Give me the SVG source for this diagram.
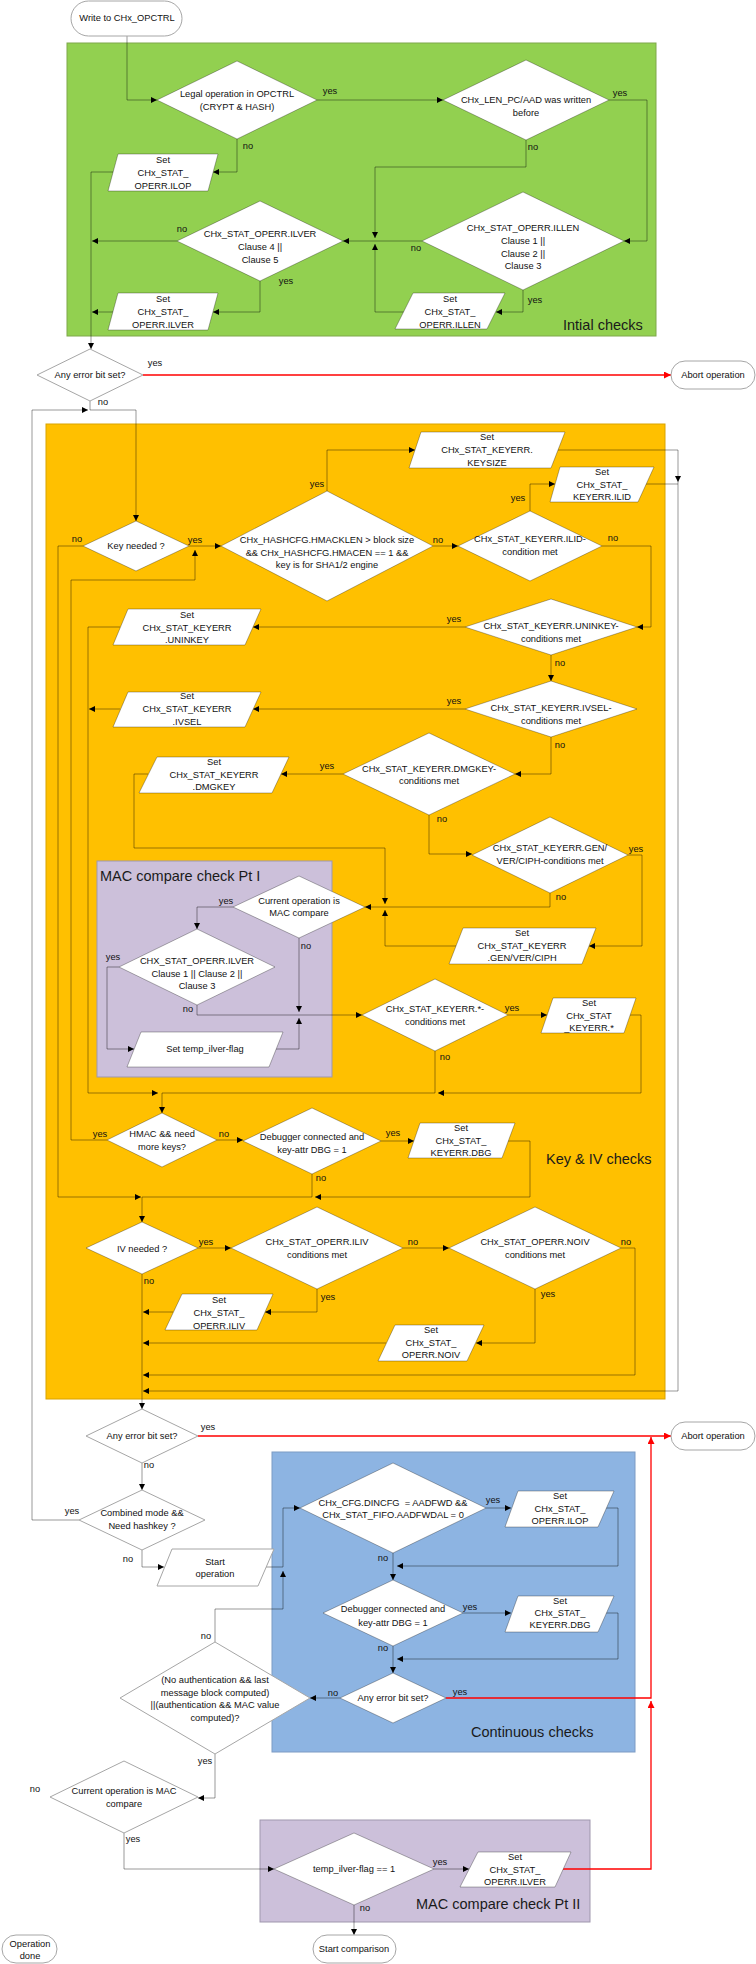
<svg xmlns="http://www.w3.org/2000/svg" width="756" height="1964" viewBox="0 0 756 1964">
<defs>
<style>
.rg-green{fill:#92D050;stroke:#7ea84a;stroke-width:1}
.rg-yellow{fill:#FFC000;stroke:#d9a300;stroke-width:1}
.rg-purple{fill:#CCC0DA;stroke:#9f97ad;stroke-width:1}
.rg-blue{fill:#8DB4E2;stroke:#7d9bc4;stroke-width:1}
.sh{fill:#fff;stroke:#000;stroke-opacity:0.3;stroke-width:1}
.so{fill:#fff;stroke:#a6a6a6;stroke-width:1}
text{font-family:"Liberation Sans",Arial,sans-serif;font-size:9.3px;fill:#111;text-anchor:middle;dominant-baseline:central}
.title{font-size:14.5px;text-anchor:start;fill:#1a1a1a}
.ln{fill:none;stroke:#000;stroke-opacity:0.4;stroke-width:1;marker-end:url(#arr)}
.lj{fill:none;stroke:#000;stroke-opacity:0.4;stroke-width:1}
.red{fill:none;stroke:#f00;stroke-width:1.3;marker-end:url(#arrR)}
</style>
<marker id="arr" viewBox="0 0 6 6" refX="6" refY="3" markerWidth="6" markerHeight="6" markerUnits="userSpaceOnUse" orient="auto"><path d="M0,0 L6,3 L0,6 z" fill="#000"/></marker>
<marker id="arrR" viewBox="0 0 7 7" refX="7" refY="3.5" markerWidth="7" markerHeight="7" markerUnits="userSpaceOnUse" orient="auto"><path d="M0,0 L7,3.5 L0,7 z" fill="#f00"/></marker>
</defs>

<!-- region boxes -->
<g id="regions">
<rect class="rg-green" x="67" y="43" width="589" height="293"/>
<text class="title" x="563" y="325">Intial checks</text>
<rect class="rg-yellow" x="46" y="424" width="619" height="975"/>
<text class="title" x="546" y="1159">Key &amp; IV checks</text>
<rect class="rg-purple" x="97" y="861" width="235" height="216"/>
<text class="title" x="100" y="876">MAC compare check Pt I</text>
<rect class="rg-blue" x="272" y="1452" width="363" height="300"/>
<text class="title" x="471" y="1732">Continuous checks</text>
<rect class="rg-purple" x="260" y="1820" width="330" height="102"/>
<text class="title" x="416" y="1904">MAC compare check Pt II</text>
</g>

<!-- connectors -->
<g id="connectors">
<path class="ln" d="M127,36 V100 H157"/>
<path class="ln" d="M317,100 H443"/>
<path class="ln" d="M609,100 H647 V241 H624"/>
<path class="ln" d="M237,139 V172 H213"/>
<path class="ln" d="M526,140 V167 H375 V238"/>
<path class="lj" d="M422,241 H375"/>
<path class="ln" d="M404,312 H375 V244"/>
<path class="ln" d="M375,241 H343"/>
<path class="ln" d="M523,290 V312 H496"/>
<path class="ln" d="M177,241 H92"/>
<path class="ln" d="M113,172 H91 V349"/>
<path class="ln" d="M260,281 V312 H213"/>
<path class="ln" d="M113,312 H92"/>
<path class="red" d="M143,375 H671"/>
<path class="ln" d="M90,401 V410 H136 V521"/>
<path class="ln" d="M189,546 H221"/>
<path class="ln" d="M107,1140 H71 V580 H195 V550"/>
<path class="ln" d="M83,546 H58 V1197 H141"/>
<path class="ln" d="M327,491 V450 H415"/>
<path class="ln" d="M433,546 H458"/>
<path class="ln" d="M558,450 H678 V482"/>
<path class="ln" d="M530,511 V484 H555"/>
<path class="lj" d="M646,484 H678"/>
<path class="ln" d="M678,482 V1391 H143"/>
<path class="ln" d="M602,546 H651 V627 H637"/>
<path class="ln" d="M465,627 H253"/>
<path class="ln" d="M120,627 H88 V1093 H158"/>
<path class="ln" d="M551,655 V681"/>
<path class="ln" d="M465,709 H253"/>
<path class="ln" d="M120,709 H89"/>
<path class="ln" d="M551,737 V774 H515"/>
<path class="ln" d="M343,774 H281"/>
<path class="ln" d="M148,774 H134 V848 H385 V904"/>
<path class="ln" d="M429,815 V854 H472"/>
<path class="ln" d="M628,855 H642 V946 H589"/>
<path class="lj" d="M550,893 V907 H385"/>
<path class="ln" d="M456,946 H385 V910"/>
<path class="ln" d="M385,907 H365"/>
<path class="ln" d="M233,907 H197 V929"/>
<path class="ln" d="M299,938 V1012"/>
<path class="lj" d="M197,1005 V1015 H299"/>
<path class="ln" d="M119,967 H107 V1049 H134"/>
<path class="ln" d="M276,1049 H299 V1018"/>
<path class="ln" d="M299,1015 H362"/>
<path class="ln" d="M508,1015 H547"/>
<path class="ln" d="M630,1015 H641 V1093 H438"/>
<path class="ln" d="M435,1051 V1093 H162 V1113"/>
<path class="ln" d="M217,1140 H243"/>
<path class="ln" d="M381,1141 H414"/>
<path class="ln" d="M508,1141 H530 V1197 H315"/>
<path class="ln" d="M312,1174 V1197 H142 V1222"/>
<path class="ln" d="M198,1248 H231"/>
<path class="ln" d="M403,1248 H449"/>
<path class="ln" d="M317,1289 V1312 H265"/>
<path class="ln" d="M173,1312 H143"/>
<path class="ln" d="M535,1289 V1343 H476"/>
<path class="ln" d="M386,1343 H143"/>
<path class="ln" d="M621,1248 H635 V1375 H143"/>
<path class="ln" d="M142,1274 V1409"/>
<path class="red" d="M198,1436 H671"/>
<path class="ln" d="M142,1463 V1490"/>
<path class="ln" d="M79,1520 H32 V410 H88"/>
<path class="ln" d="M142,1550 V1567 H164"/>
<path class="lj" d="M266,1567 H283"/>
<path class="ln" d="M215,1642 V1609 H283 V1571"/>
<path class="ln" d="M283,1567 V1508 H300"/>
<path class="ln" d="M486,1508 H511"/>
<path class="ln" d="M606,1508 H618 V1566 H397"/>
<path class="ln" d="M393,1553 V1580"/>
<path class="ln" d="M463,1613 H511"/>
<path class="ln" d="M606,1613 H618 V1659 H397"/>
<path class="ln" d="M393,1646 V1673"/>
<path class="red" d="M446,1698 H651 V1437"/>
<path class="ln" d="M340,1698 H310"/>
<path class="ln" d="M215,1754 V1798 H198"/>
<path class="ln" d="M124,1833 V1869 H274"/>
<path class="ln" d="M434,1869 H469"/>
<path class="red" d="M563,1869 H651 V1701"/>
<path class="ln" d="M354,1905 V1935"/>
</g>

<!-- branch labels -->
<g id="labels">
<text x="330" y="91">yes</text><text x="248" y="146">no</text>
<text x="620" y="93">yes</text><text x="533" y="147">no</text>
<text x="182" y="229">no</text><text x="286" y="281">yes</text>
<text x="416" y="248">no</text><text x="535" y="300">yes</text>
<text x="155" y="363">yes</text><text x="103" y="402">no</text>
<text x="77" y="539">no</text><text x="195" y="540">yes</text>
<text x="317" y="484">yes</text><text x="438" y="540">no</text>
<text x="518" y="498">yes</text><text x="613" y="538">no</text>
<text x="454" y="619">yes</text><text x="560" y="663">no</text>
<text x="454" y="701">yes</text><text x="560" y="745">no</text>
<text x="327" y="766">yes</text><text x="442" y="819">no</text>
<text x="636" y="849">yes</text><text x="561" y="897">no</text>
<text x="226" y="901">yes</text><text x="306" y="946">no</text>
<text x="113" y="957">yes</text><text x="188" y="1009">no</text>
<text x="512" y="1008">yes</text><text x="445" y="1057">no</text>
<text x="100" y="1134">yes</text><text x="224" y="1134">no</text>
<text x="393" y="1133">yes</text><text x="321" y="1178">no</text>
<text x="206" y="1242">yes</text><text x="149" y="1281">no</text>
<text x="413" y="1242">no</text><text x="328" y="1297">yes</text>
<text x="626" y="1242">no</text><text x="548" y="1294">yes</text>
<text x="208" y="1427">yes</text><text x="149" y="1465">no</text>
<text x="72" y="1511">yes</text><text x="128" y="1559">no</text>
<text x="206" y="1636">no</text>
<text x="493" y="1500">yes</text><text x="383" y="1558">no</text>
<text x="470" y="1607">yes</text><text x="383" y="1648">no</text>
<text x="460" y="1692">yes</text><text x="333" y="1693">no</text>
<text x="205" y="1761">yes</text>
<text x="35" y="1789">no</text><text x="133" y="1839">yes</text>
<text x="440" y="1862">yes</text><text x="365" y="1908">no</text>
</g>

<!-- initial checks -->
<g id="n-start"><rect class="so" x="71" y="1" width="111" height="35" rx="17.5"/><text x="127" y="18">Write to CHx_OPCTRL</text></g>
<g id="n-legal"><polygon class="sh" points="157,100 237,61 317,100 237,139"/><text><tspan x="237" y="94">Legal operation in OPCTRL</tspan><tspan x="237" y="107">(CRYPT &amp; HASH)</tspan></text></g>
<g id="n-len"><polygon class="sh" points="443,100 526,60 609,100 526,140"/><text><tspan x="526" y="100">CHx_LEN_PC/AAD was written</tspan><tspan x="526" y="113">before</tspan></text></g>
<g id="n-set-ilop"><polygon class="sh" points="118,154 218,154 208,191 108,191"/><text><tspan x="163" y="160">Set</tspan><tspan x="163" y="173">CHx_STAT_</tspan><tspan x="163" y="186">OPERR.ILOP</tspan></text></g>
<g id="n-ilver"><polygon class="sh" points="177,241 260,201 343,241 260,281"/><text><tspan x="260" y="234">CHx_STAT_OPERR.ILVER</tspan><tspan x="260" y="247">Clause 4 ||</tspan><tspan x="260" y="260">Clause 5</tspan></text></g>
<g id="n-illen"><polygon class="sh" points="422,241 523,192 624,241 523,290"/><text><tspan x="523" y="228">CHx_STAT_OPERR.ILLEN</tspan><tspan x="523" y="241">Clause 1 ||</tspan><tspan x="523" y="254">Clause 2 ||</tspan><tspan x="523" y="266">Clause 3</tspan></text></g>
<g id="n-set-ilver"><polygon class="sh" points="118,293 218,293 208,330 108,330"/><text><tspan x="163" y="299">Set</tspan><tspan x="163" y="312">CHx_STAT_</tspan><tspan x="163" y="325">OPERR.ILVER</tspan></text></g>
<g id="n-set-illen"><polygon class="sh" points="413,293 505,293 487,329 395,329"/><text><tspan x="450" y="299">Set</tspan><tspan x="450" y="312">CHx_STAT_</tspan><tspan x="450" y="325">OPERR.ILLEN</tspan></text></g>
<g id="n-err1"><polygon class="so" points="37,375 90,349 143,375 90,401"/><text x="90" y="375">Any error bit set?</text></g>
<g id="n-abort1"><rect class="so" x="671" y="361" width="84" height="28" rx="14"/><text x="713" y="375">Abort operation</text></g>

<!-- key & iv checks -->
<g id="n-keyneeded"><polygon class="sh" points="83,546 136,521 189,546 136,571"/><text x="136" y="546">Key needed ?</text></g>
<g id="n-hmacklen"><polygon class="sh" points="221,546 327,491 433,546 327,601"/><text><tspan x="327" y="540">CHx_HASHCFG.HMACKLEN &gt; block size</tspan><tspan x="327" y="553">&amp;&amp; CHx_HASHCFG.HMACEN == 1 &amp;&amp;</tspan><tspan x="327" y="565">key is for SHA1/2 engine</tspan></text></g>
<g id="n-set-keysize"><polygon class="sh" points="421,432 565,432 551,468 409,468"/><text><tspan x="487" y="437">Set</tspan><tspan x="487" y="450">CHx_STAT_KEYERR.</tspan><tspan x="487" y="463">KEYSIZE</tspan></text></g>
<g id="n-ilid"><polygon class="sh" points="458,546 530,511 602,546 530,581"/><text><tspan x="530" y="539">CHx_STAT_KEYERR.ILID-</tspan><tspan x="530" y="552">condition met</tspan></text></g>
<g id="n-set-ilid"><polygon class="sh" points="560,467 654,467 638,502 550,502"/><text><tspan x="602" y="472">Set</tspan><tspan x="602" y="485">CHx_STAT_</tspan><tspan x="602" y="497">KEYERR.ILID</tspan></text></g>
<g id="n-uninkey"><polygon class="sh" points="465,627 551,599 637,627 551,655"/><text><tspan x="551" y="626">CHx_STAT_KEYERR.UNINKEY-</tspan><tspan x="551" y="639">conditions met</tspan></text></g>
<g id="n-set-uninkey"><polygon class="sh" points="128,609 261,609 245,645 113,645"/><text><tspan x="187" y="615">Set</tspan><tspan x="187" y="628">CHx_STAT_KEYERR</tspan><tspan x="187" y="640">.UNINKEY</tspan></text></g>
<g id="n-ivsel"><polygon class="sh" points="465,709 551,681 637,709 551,737"/><text><tspan x="551" y="708">CHx_STAT_KEYERR.IVSEL-</tspan><tspan x="551" y="721">conditions met</tspan></text></g>
<g id="n-set-ivsel"><polygon class="sh" points="128,692 261,692 245,727 113,727"/><text><tspan x="187" y="696">Set</tspan><tspan x="187" y="709">CHx_STAT_KEYERR</tspan><tspan x="187" y="722">.IVSEL</tspan></text></g>
<g id="n-dmgkey"><polygon class="sh" points="343,774 429,733 515,774 429,815"/><text><tspan x="429" y="769">CHx_STAT_KEYERR.DMGKEY-</tspan><tspan x="429" y="781">conditions met</tspan></text></g>
<g id="n-set-dmgkey"><polygon class="sh" points="157,757 289,757 272,793 139,793"/><text><tspan x="214" y="762">Set</tspan><tspan x="214" y="775">CHx_STAT_KEYERR</tspan><tspan x="214" y="787">.DMGKEY</tspan></text></g>
<g id="n-gen"><polygon class="sh" points="472,855 550,817 628,855 550,893"/><text><tspan x="550" y="848">CHx_STAT_KEYERR.GEN/</tspan><tspan x="550" y="861">VER/CIPH-conditions met</tspan></text></g>
<g id="n-set-gen"><polygon class="sh" points="463,928 596,928 582,964 449,964"/><text><tspan x="522" y="933">Set</tspan><tspan x="522" y="946">CHx_STAT_KEYERR</tspan><tspan x="522" y="958">.GEN/VER/CIPH</tspan></text></g>
<g id="n-macop1"><polygon class="sh" points="233,907 299,876 365,907 299,938"/><text><tspan x="299" y="901">Current operation is</tspan><tspan x="299" y="913">MAC compare</tspan></text></g>
<g id="n-ilver1"><polygon class="sh" points="119,967 197,929 275,967 197,1005"/><text><tspan x="197" y="961">CHX_STAT_OPERR.ILVER</tspan><tspan x="197" y="974">Clause 1 || Clause 2 ||</tspan><tspan x="197" y="986">Clause 3</tspan></text></g>
<g id="n-set-temp"><polygon class="sh" points="141,1032 283,1032 269,1067 127,1067"/><text x="205" y="1049">Set temp_ilver-flag</text></g>
<g id="n-keyerr-any"><polygon class="sh" points="362,1015 435,979 508,1015 435,1051"/><text><tspan x="435" y="1009">CHx_STAT_KEYERR.*-</tspan><tspan x="435" y="1022">conditions met</tspan></text></g>
<g id="n-set-keyerr-any"><polygon class="sh" points="553,998 636,998 624,1033 541,1033"/><text><tspan x="589" y="1003">Set</tspan><tspan x="589" y="1016">CHx_STAT</tspan><tspan x="589" y="1028">_KEYERR.*</tspan></text></g>
<g id="n-hmacmore"><polygon class="sh" points="107,1140 162,1113 217,1140 162,1167"/><text><tspan x="162" y="1134">HMAC &amp;&amp; need</tspan><tspan x="162" y="1147">more keys?</tspan></text></g>
<g id="n-dbg1"><polygon class="sh" points="243,1141 312,1108 381,1141 312,1174"/><text><tspan x="312" y="1137">Debugger connected and</tspan><tspan x="312" y="1150">key-attr DBG = 1</tspan></text></g>
<g id="n-set-dbg1"><polygon class="sh" points="420,1123 515,1123 502,1158 408,1158"/><text><tspan x="461" y="1128">Set</tspan><tspan x="461" y="1141">CHx_STAT_</tspan><tspan x="461" y="1153">KEYERR.DBG</tspan></text></g>
<g id="n-ivneeded"><polygon class="sh" points="86,1248 142,1222 198,1248 142,1274"/><text x="142" y="1249">IV needed ?</text></g>
<g id="n-iliv"><polygon class="sh" points="231,1248 317,1207 403,1248 317,1289"/><text><tspan x="317" y="1242">CHx_STAT_OPERR.ILIV</tspan><tspan x="317" y="1255">conditions met</tspan></text></g>
<g id="n-noiv"><polygon class="sh" points="449,1248 535,1207 621,1248 535,1289"/><text><tspan x="535" y="1242">CHx_STAT_OPERR.NOIV</tspan><tspan x="535" y="1255">conditions met</tspan></text></g>
<g id="n-set-iliv"><polygon class="sh" points="182,1294 273,1294 257,1330 165,1330"/><text><tspan x="219" y="1300">Set</tspan><tspan x="219" y="1313">CHx_STAT_</tspan><tspan x="219" y="1326">OPERR.ILIV</tspan></text></g>
<g id="n-set-noiv"><polygon class="sh" points="395,1325 484,1325 467,1361 378,1361"/><text><tspan x="431" y="1330">Set</tspan><tspan x="431" y="1343">CHx_STAT_</tspan><tspan x="431" y="1355">OPERR.NOIV</tspan></text></g>

<!-- after key checks -->
<g id="n-err2"><polygon class="so" points="86,1436 142,1409 198,1436 142,1463"/><text x="142" y="1436">Any error bit set?</text></g>
<g id="n-abort2"><rect class="so" x="671" y="1422" width="84" height="28" rx="14"/><text x="713" y="1436">Abort operation</text></g>
<g id="n-combined"><polygon class="so" points="79,1520 142,1490 205,1520 142,1550"/><text><tspan x="142" y="1513">Combined mode &amp;&amp;</tspan><tspan x="142" y="1526">Need hashkey ?</tspan></text></g>
<g id="n-startop"><polygon class="so" points="172,1549 274,1549 258,1586 157,1586"/><text><tspan x="215" y="1562">Start</tspan><tspan x="215" y="1574">operation</tspan></text></g>

<!-- continuous checks -->
<g id="n-cfg"><polygon class="sh" points="300,1508 393,1463 486,1508 393,1553"/><text><tspan x="393" y="1503">CHx_CFG.DINCFG&#160; = AADFWD &amp;&amp;</tspan><tspan x="393" y="1515">CHx_STAT_FIFO.AADFWDAL = 0</tspan></text></g>
<g id="n-set-ilop2"><polygon class="sh" points="518,1491 614,1491 598,1527 505,1527"/><text><tspan x="560" y="1496">Set</tspan><tspan x="560" y="1509">CHx_STAT_</tspan><tspan x="560" y="1521">OPERR.ILOP</tspan></text></g>
<g id="n-dbg2"><polygon class="sh" points="323,1613 393,1580 463,1613 393,1646"/><text><tspan x="393" y="1609">Debugger connected and</tspan><tspan x="393" y="1623">key-attr DBG = 1</tspan></text></g>
<g id="n-set-dbg2"><polygon class="sh" points="518,1596 614,1596 598,1632 505,1632"/><text><tspan x="560" y="1601">Set</tspan><tspan x="560" y="1613">CHx_STAT_</tspan><tspan x="560" y="1625">KEYERR.DBG</tspan></text></g>
<g id="n-err3"><polygon class="sh" points="340,1698 393,1673 446,1698 393,1723"/><text x="393" y="1698">Any error bit set?</text></g>
<g id="n-done-check"><polygon class="so" points="120,1698 215,1642 310,1698 215,1754"/><text><tspan x="215" y="1680">(No authentication &amp;&amp; last</tspan><tspan x="215" y="1693">message block computed)</tspan><tspan x="215" y="1705">||(authentication &amp;&amp; MAC value</tspan><tspan x="215" y="1718">computed)?</tspan></text></g>

<!-- mac compare part II -->
<g id="n-macop2"><polygon class="so" points="50,1797 124,1761 198,1797 124,1833"/><text><tspan x="124" y="1791">Current operation is MAC</tspan><tspan x="124" y="1804">compare</tspan></text></g>
<g id="n-tempflag"><polygon class="sh" points="274,1869 354,1833 434,1869 354,1905"/><text x="354" y="1869">temp_ilver-flag == 1</text></g>
<g id="n-set-ilver2"><polygon class="sh" points="478,1852 571,1852 555,1887 460,1887"/><text><tspan x="515" y="1857">Set</tspan><tspan x="515" y="1870">CHx_STAT_</tspan><tspan x="515" y="1882">OPERR.ILVER</tspan></text></g>
<g id="n-opdone"><rect class="so" x="2" y="1935" width="55" height="28" rx="14"/><text><tspan x="30" y="1944">Operation</tspan><tspan x="30" y="1956">done</tspan></text></g>
<g id="n-startcmp"><rect class="so" x="313" y="1935" width="83" height="28" rx="14"/><text x="354" y="1949">Start comparison</text></g>
</svg>
